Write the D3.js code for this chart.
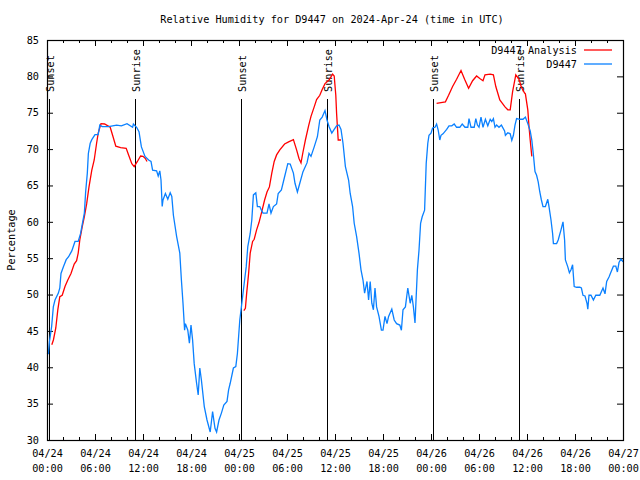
<!DOCTYPE html>
<html><head><meta charset="utf-8">
<script src="https://cdn.jsdelivr.net/npm/d3@7"></script>
<style>
body{margin:0;background:#fff;}
text{font-family:"DejaVu Sans Mono","Liberation Mono",monospace;font-size:10.2px;fill:#000;}
</style></head>
<body><svg id="c" width="640" height="480"></svg>
<script>
const titleText = "Relative Humidity for D9447 on 2024-Apr-24 (time in UTC)";
const yLabel = "Percentage";
const seriesNames = ["D9447 Analysis", "D9447"];
const seriesColors = ["#ff0000", "#0a80ff"];
const yTicks = [30,35,40,45,50,55,60,65,70,75,80,85];
const startUTC = Date.UTC(2024,3,24,0,0);
// hours since 2024-04-24 00:00 UTC
const obsHours = [0,0.17,0.3,0.58,0.79,1.0,1.42,1.6,1.75,2.04,2.4,2.7,3.1,3.5,3.9,4.2,4.4,4.67,4.83,5.04,5.17,5.4,5.6,6.0,6.4,6.6,6.9,7.7,8.7,9.3,10.0,10.7,10.8,11.2,11.5,11.8,12.25,12.7,13.0,13.2,13.7,13.9,14.1,14.25,14.4,14.5,14.8,15.1,15.4,15.6,15.8,16.2,16.6,16.8,17.0,17.2,17.3,17.6,17.8,18.0,18.2,18.4,18.7,18.9,19.1,19.3,19.66,20.0,20.4,20.7,21.0,21.2,21.5,21.8,22.1,22.5,22.7,22.9,23.3,23.6,23.8,24.1,24.3,24.7,24.9,25.1,25.4,25.6,25.8,26.1,26.3,26.6,26.8,27.0,27.5,27.75,28.0,28.3,28.7,28.9,29.3,29.7,30.1,30.4,30.8,31.0,31.3,31.6,32.0,32.5,32.75,33.0,33.4,33.8,34.1,34.4,34.75,35.0,35.25,35.6,35.9,36.2,36.5,36.75,37.0,37.3,37.7,37.9,38.2,38.4,38.7,39.0,39.25,39.5,39.7,40.0,40.2,40.4,40.6,40.8,41.0,41.2,41.5,41.8,42.0,42.25,42.5,42.7,43.1,43.4,43.7,44.1,44.3,44.5,44.8,45.1,45.4,45.6,45.8,46.0,46.3,46.5,46.7,46.9,47.2,47.4,47.6,47.75,48.0,48.2,48.5,48.7,48.9,49.1,49.25,49.5,49.96,50.25,50.6,50.9,51.2,51.6,51.9,52.25,52.6,52.75,53.0,53.4,53.6,53.8,54.0,54.25,54.5,54.8,55.1,55.4,55.6,55.8,56.0,56.2,56.5,56.8,57.2,57.3,57.6,57.9,58.1,58.3,58.5,58.7,59.1,59.5,59.8,60.1,60.4,60.6,60.8,61.0,61.2,61.4,61.6,61.8,62.0,62.3,62.6,62.75,63.0,63.2,63.3,63.7,63.9,64.25,64.5,64.7,64.8,65.1,65.3,65.5,65.7,65.9,66.2,66.6,66.8,67.0,67.25,67.5,67.6,67.75,68.0,68.3,68.6,69.1,69.5,69.75,69.96,70.25,70.5,70.8,71.1,71.3,71.5,71.75,72.0];
const obsValues = [42.0,41.9,43.5,45.6,48.3,49.25,50.2,50.9,52.9,53.8,54.8,55.2,56.0,57.3,57.3,58.4,59.6,61.2,64.1,66.7,69.4,70.8,71.3,72.0,72.0,73.3,73.1,73.1,73.3,73.2,73.5,73.0,73.45,73.0,72.4,70.3,69.0,68.5,68.3,67.1,67.0,66.3,67.0,65.75,62.1,63.0,63.9,63.1,64.0,63.5,60.9,58.0,55.7,52.0,48.8,45.1,46.0,45.1,43.3,45.8,43.75,40.5,37.8,36.2,39.9,38.25,34.6,32.75,31.1,33.9,31.6,31.1,32.75,33.7,34.8,35.3,36.9,37.8,39.9,40.1,41.9,46.5,48.3,52.0,53.8,56.6,58.4,60.25,63.7,64.0,62.1,62.1,61.6,61.2,61.2,62.45,61.2,62.1,62.45,63.9,64.4,66.2,68.0,67.95,66.7,65.3,64.1,65.3,66.9,68.1,69.4,69.0,70.3,71.7,74.0,74.4,75.3,74.0,73.1,72.2,72.7,73.2,73.3,72.7,70.8,67.6,65.75,63.9,62.1,59.8,58.0,55.7,53.4,52.0,50.2,51.8,49.25,51.8,48.8,47.9,50.9,48.3,47.0,45.1,45.1,47.0,46.0,47.0,48.0,46.5,46.0,45.8,45.1,47.9,48.3,50.9,48.8,49.9,48.3,46.1,53.4,56.1,59.8,60.7,61.6,68.0,70.8,71.9,72.2,72.9,73.0,73.45,72.6,71.25,71.9,72.1,72.7,73.2,73.2,73.45,73.0,73.0,73.45,73.0,73.0,74.2,73.0,73.0,74.2,73.3,73.0,74.4,73.0,74.1,73.2,74.1,73.8,74.2,73.0,73.3,73.0,73.3,72.5,71.9,72.25,72.1,71.2,71.9,73.3,74.2,74.1,74.1,74.4,73.5,72.5,71.25,69.2,66.9,66.4,65.5,64.1,63.0,62.1,62.1,63.1,62.1,60.25,58.4,57.0,57.0,57.5,58.9,60.0,57.5,54.75,53.8,53.0,53.4,54.1,51.1,51.0,51.0,50.9,49.9,49.8,48.8,48.0,49.9,49.9,49.25,49.9,49.9,50.9,50.1,51.8,52.4,53.1,53.9,53.9,53.1,54.4,54.9,54.5];
// analysis series; null marks a gap
const anaHours = [0.6,0.8,1.1,1.35,1.6,1.9,2.25,2.6,3.0,3.4,3.7,3.9,4.1,4.4,4.67,4.96,5.25,5.6,5.9,6.2,6.4,6.75,7.2,7.9,8.2,8.6,9.2,9.9,10.2,10.6,10.9,11.3,11.7,12.0,12.3,12.5,18,
 24.6,24.8,24.96,25.2,25.4,25.7,25.9,26.2,26.5,26.8,27.2,27.5,27.8,28.1,28.4,28.7,29.1,29.7,30.2,30.8,31.2,31.5,31.75,32.0,32.3,32.7,33.0,33.4,33.7,34.1,34.4,34.75,35.25,35.7,35.9,36.1,36.2,36.4,36.75,42,
 48.7,49.25,49.8,50.2,50.7,51.2,51.75,52.2,52.7,53.2,53.7,54.1,54.5,54.75,55.4,55.8,56.1,56.6,57.25,57.6,57.9,58.2,58.6,59.0,59.3,59.7,59.8,60.1,60.25,60.4,60.6];
const anaValues = [43.1,43.75,45.4,47.9,49.7,49.9,51.1,52.0,52.9,54.2,54.65,55.7,57.5,59.3,60.7,62.5,64.8,67.1,68.5,70.8,72.2,73.5,73.45,73.0,71.9,70.4,70.2,70.1,69.2,68.0,67.6,68.3,69.05,69.0,68.7,68.3,null,
 47.8,48.1,50.2,52.9,55.7,57.3,57.6,58.9,59.9,61.2,63.0,64.1,64.8,66.7,68.3,69.2,69.9,70.7,71.0,71.3,69.9,68.7,68.1,69.6,71.25,73.2,74.5,75.8,76.8,77.4,78.2,79.0,79.5,80.3,80.05,77.4,74.9,71.25,71.25,null,
 76.3,76.4,76.5,77.4,78.6,79.6,80.8,79.6,78.35,79.4,80.05,79.7,79.4,80.2,80.3,80.2,78.6,76.75,75.8,75.4,75.4,77.9,80.2,79.6,78.5,77.7,77.6,75.4,73.1,71.25,69.0];
const sunHours = [0.25,11.0,24.3,35.05,48.3,58.95];
const sunLabels = ["Sunset","Sunrise","Sunset","Sunrise","Sunset","Sunrise"];

const toDate = h => new Date(startUTC + h*3600000);
const svg = d3.select("#c");
const L=47, R=623, T=40, B=440;
const x = d3.scaleUtc().domain([toDate(0), toDate(72)]).range([L, R]);
const y = d3.scaleLinear().domain([30, 85]).range([B, T]);

// title
svg.append("text").attr("x", 332).attr("y", 23).attr("text-anchor","middle").text(titleText);
// y label
svg.append("text").attr("transform","translate(15,240) rotate(-90)").attr("text-anchor","middle").text(yLabel);

const fmt = d3.utcFormat("%m/%d|%H:%M");
const majorTicks = d3.utcHour.every(6).range(toDate(0), toDate(72.01));
const minorTicks = d3.utcHour.every(2).range(toDate(0), toDate(72.01));

// minor ticks bottom/top
svg.append("g").attr("transform",`translate(0,${B})`).call(d3.axisBottom(x).tickValues(minorTicks).tickSize(-3).tickFormat(""))
  .call(g=>g.select(".domain").remove());
svg.append("g").attr("transform",`translate(0,${T})`).call(d3.axisTop(x).tickValues(minorTicks).tickSize(-3).tickFormat(""))
  .call(g=>g.select(".domain").remove());
// major bottom with labels
const xAx = svg.append("g").attr("transform",`translate(0,${B})`)
  .call(d3.axisBottom(x).tickValues(majorTicks).tickSize(-6).tickPadding(10).tickFormat(fmt));
xAx.select(".domain").remove();
xAx.selectAll(".tick text").each(function(d){
  const parts = fmt(d).split("|");
  const t = d3.select(this).text("").attr("fill","#000");
  t.append("tspan").attr("x",0).attr("dy","0.71em").text(parts[0]);
  t.append("tspan").attr("x",0).attr("dy","1.4em").text(parts[1]);
});
xAx.selectAll(".tick text").attr("y", 10);
svg.append("g").attr("transform",`translate(0,${T})`).call(d3.axisTop(x).tickValues(majorTicks).tickSize(-6).tickFormat(""))
  .call(g=>g.select(".domain").remove());
// y axes
const yAx = svg.append("g").attr("transform",`translate(${L},0)`)
  .call(d3.axisLeft(y).tickValues(yTicks).tickSize(-6).tickPadding(8).tickFormat(d3.format("d")));
yAx.select(".domain").remove();
svg.append("g").attr("transform",`translate(${R},0)`)
  .call(d3.axisRight(y).tickValues(yTicks).tickSize(-6).tickFormat(""))
  .call(g=>g.select(".domain").remove());
svg.selectAll(".tick line").attr("stroke","#000");
svg.selectAll(".tick text").attr("font-family",null).attr("font-size",null);

// sun lines
sunHours.forEach((h,i)=>{
  const xx = Math.round(x(toDate(h)))+0.5;
  svg.append("line").attr("x1",xx).attr("x2",xx).attr("y1",99).attr("y2",B).attr("stroke","#000").attr("stroke-width",1);
  svg.append("text").attr("transform",`translate(${xx+1},92) rotate(-90)`).attr("dominant-baseline","central").text(sunLabels[i]);
});

// series
const anaData = anaHours.map((h,i)=>({t:toDate(h), v:anaValues[i]}));
const obsData = obsHours.map((h,i)=>({t:toDate(h), v:obsValues[i]}));
const line = d3.line().defined(d=>d.v!==null).x(d=>x(d.t)).y(d=>y(d.v));
svg.append("path").datum(anaData).attr("d",line).attr("fill","none").attr("stroke",seriesColors[0]).attr("stroke-width",1.3);
svg.append("path").datum(obsData).attr("d",line).attr("fill","none").attr("stroke",seriesColors[1]).attr("stroke-width",1.3);

// frame
svg.append("rect").attr("x",L+0.5).attr("y",T+0.5).attr("width",R-L).attr("height",B-T)
  .attr("fill","none").attr("stroke","#000").attr("stroke-width",1.2);

// legend
seriesNames.forEach((n,i)=>{
  const ly = 50 + i*14;
  svg.append("text").attr("x",577).attr("y",ly).attr("text-anchor","end").attr("dominant-baseline","central").text(n);
  svg.append("line").attr("x1",584).attr("x2",612).attr("y1",ly).attr("y2",ly).attr("stroke",seriesColors[i]).attr("stroke-width",1.3);
});
</script></body></html>
